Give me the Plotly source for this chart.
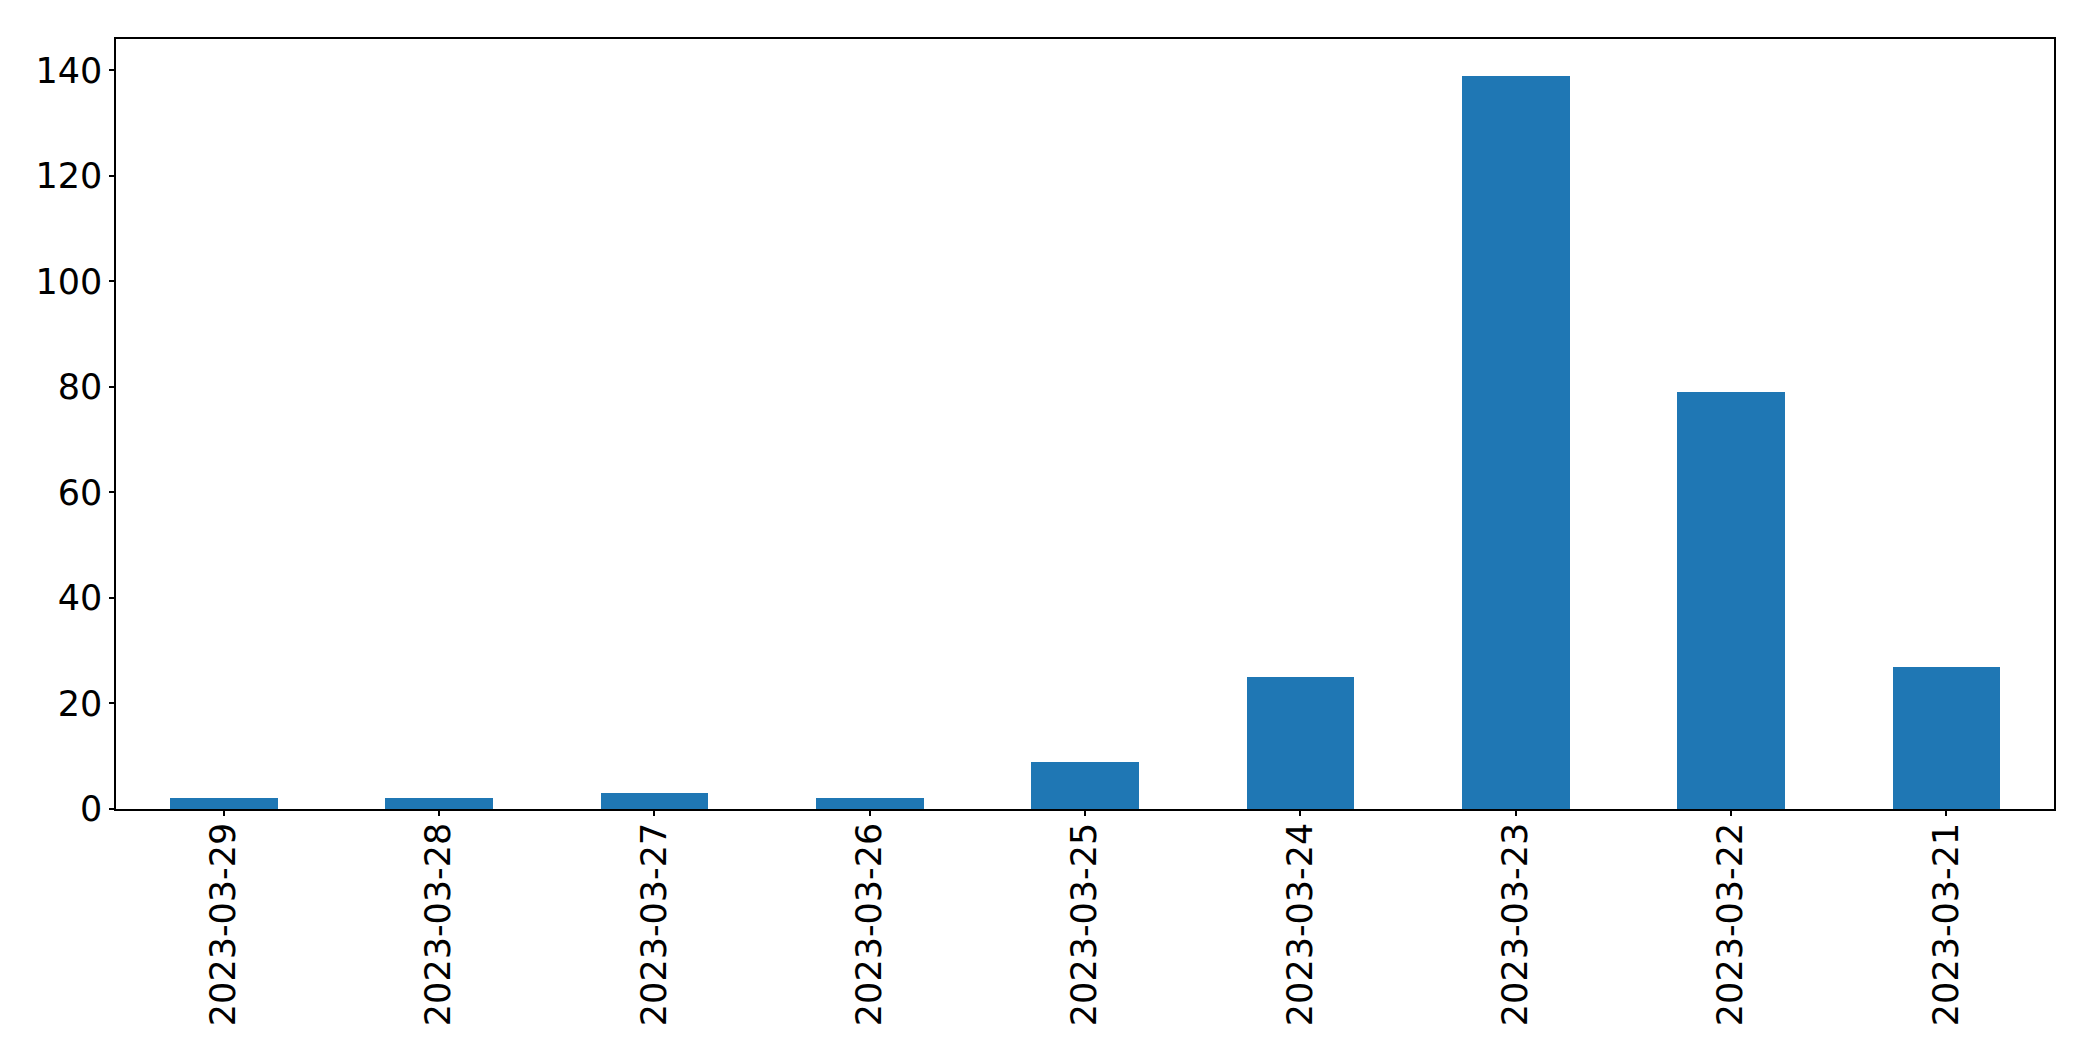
import plotly.graph_objects as go

dates = ["2023-03-29", "2023-03-28", "2023-03-27", "2023-03-26", "2023-03-25",
         "2023-03-24", "2023-03-23", "2023-03-22", "2023-03-21"]
counts = [2, 2, 3, 2, 9, 25, 139, 79, 27]
y_ticks = [0, 20, 40, 60, 80, 100, 120, 140]

fig = go.Figure(go.Bar(x=dates, y=counts, marker_color="#1f77b4",
                       marker_line_width=0, width=0.5))

# page body has an 8px default margin, so the figure is offset by 8px
fig.update_layout(
    width=2085, height=1053,
    margin=dict(l=108, r=39, t=31, b=252),
    paper_bgcolor="white", plot_bgcolor="white",
    font=dict(family="DejaVu Sans", size=35, color="black"),
    showlegend=False,
    bargap=0,
)
fig.update_xaxes(
    type="category", range=[-0.5, 8.5], tickangle=-90,
    showline=True, linecolor="black", linewidth=1.5, mirror=True,
    ticks="outside", ticklen=5, tickwidth=1.5, tickcolor="black",
    ticklabelstandoff=-7,
    showgrid=False, zeroline=False,
)
fig.update_yaxes(
    range=[0, 145.95], tickvals=y_ticks,
    showline=True, linecolor="black", linewidth=1.5, mirror=True,
    ticks="outside", ticklen=5, tickwidth=1.5, tickcolor="black",
    showgrid=False, zeroline=False,
)

fig.write_html("out.html")
